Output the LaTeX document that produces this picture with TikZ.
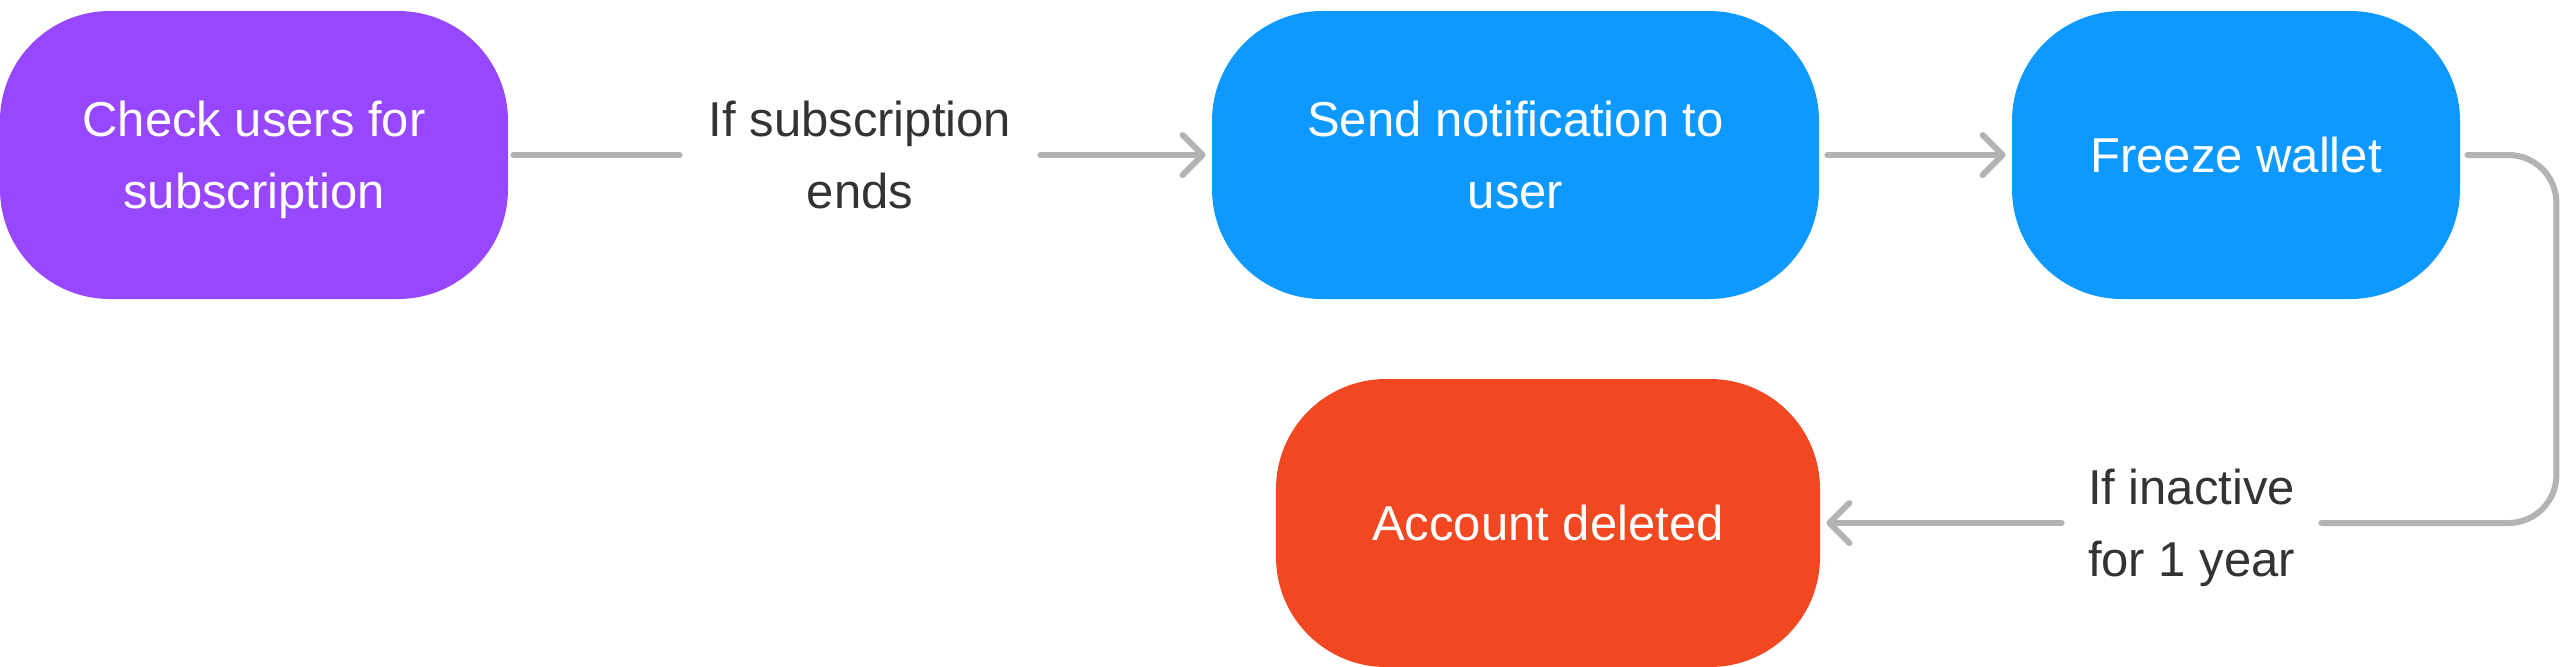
\documentclass[tikz,border=0pt]{standalone}
\usepackage{fontspec}
\setmainfont{Liberation Sans}
\usetikzlibrary{arrows.meta}
\definecolor{fpurple}{HTML}{9747FF}
\definecolor{fblue}{HTML}{0D99FF}
\definecolor{fred}{HTML}{F24822}
\definecolor{conngray}{HTML}{B3B3B3}
\definecolor{labeltext}{HTML}{333333}
\begin{document}
\begin{tikzpicture}[x=0.5pt,y=-0.5pt,
  stepbox/.style={rounded corners=55pt, text=white, align=center,
    font=\fontsize{24.5}{36}\selectfont, minimum height=144pt, inner sep=0pt},
  lbl/.style={text=labeltext, align=center, font=\fontsize{24.5}{36}\selectfont,
    inner xsep=0pt, inner ysep=0pt},
  conn/.style={draw=conngray, line width=3pt, line cap=round, line join=round},
  arr/.style={-{Straight Barb[length=10pt,width=20pt,round]}}
]
\useasboundingbox (0,0) rectangle (2575,666);
\node[stepbox, fill=fpurple, minimum width=254pt] (n1) at (254,155) {Check users for\\\smash{subscription}};
\node[stepbox, fill=fblue, minimum width=303.5pt] (n2) at (1515.5,155) {Send notification to\\user};
\node[stepbox, fill=fblue, minimum width=224pt] (n3) at (2236,155) {Freeze wallet};
\node[stepbox, fill=fred, minimum width=272pt] (n4) at (1548,523) {Account deleted};
\node[lbl, minimum width=180pt] (l1) at (860,155) {If subscription\\ends};
\node[lbl, minimum width=129.5pt] (l2) at (2191.5,523) {If inactive\\\smash{for 1 year}};
\draw[conn, shorten <=2.5pt] (n1.east) -- (l1.west);
\draw[conn, arr, shorten >=3pt] (l1.east) -- (n2.west);
\draw[conn, arr, shorten <=4pt, shorten >=3pt] (n2.east) -- (n3.west);
\draw[conn, rounded corners=24pt, shorten <=3.5pt] (n3.east) -- ++(48pt,0) |- (l2.east);
\draw[conn, arr, shorten >=3pt] (l2.west) -- (n4.east);
\end{tikzpicture}
\end{document}
